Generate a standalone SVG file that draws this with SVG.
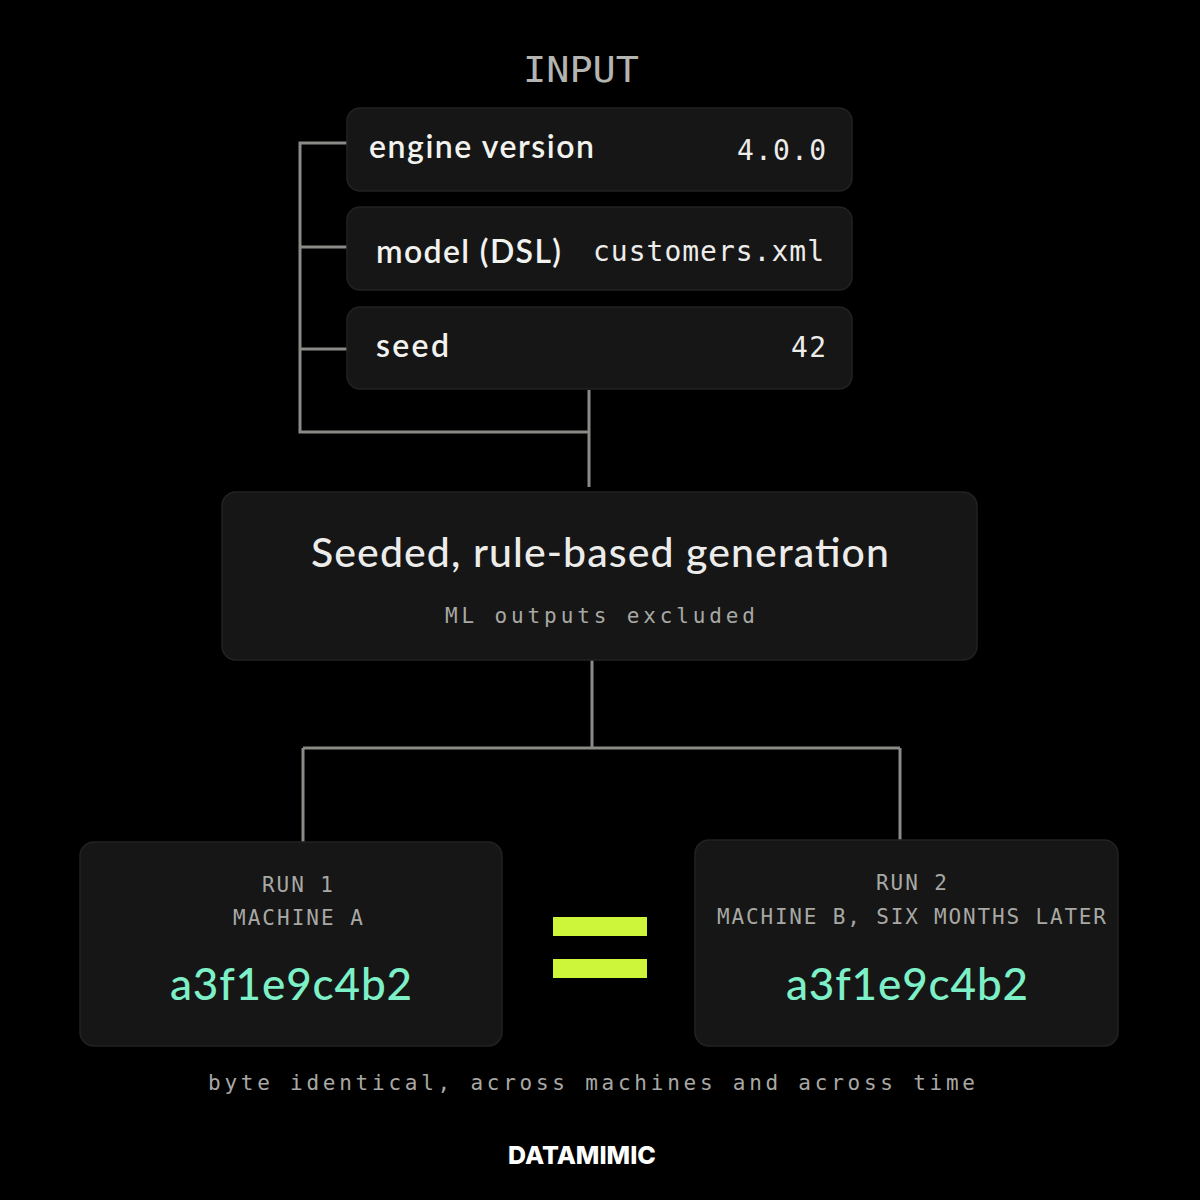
<svg xmlns="http://www.w3.org/2000/svg" width="1200" height="1200" viewBox="0 0 1200 1200">
<style>
.box{fill:#161616;stroke:#222;stroke-width:1.5}
.ln{stroke:#8a8a86;stroke-width:3;fill:none}
.lab{font-family:Lato,"Noto Sans",sans-serif;font-weight:600;fill:#f2f2ee;font-size:32px}
.mono{font-family:"DejaVu Sans Mono","Liberation Mono",monospace;fill:#ececea}
.cap{font-family:"DejaVu Sans Mono","Liberation Mono",monospace;fill:#a8a8a4;font-size:21px}
.hash{font-family:Lato,"Noto Sans",sans-serif;fill:#7ef0c8;font-size:44px;font-weight:500}
</style>
<rect width="1200" height="1200" fill="#000"/>
<text x="523" y="82" textLength="116" lengthAdjust="spacingAndGlyphs" class="mono" font-size="36" style="fill:#b4b4b0">INPUT</text>
<g id="connectors">
<path class="ln" d="M347 143H300V432H589M300 247H347M300 349H347M589 390V487"/>
<path class="ln" d="M592 657V748M303 748H900M303 748V843M900 748V841"/>
</g>
<g id="engine"><rect class="box" x="347" y="108" width="505" height="83" rx="13"/>
<text class="lab" x="369" y="158" textLength="225" lengthAdjust="spacing">engine version</text>
<text class="mono" x="737" y="160" font-size="28" textLength="89" lengthAdjust="spacing">4.0.0</text></g>
<g id="model"><rect class="box" x="347" y="207" width="505" height="83" rx="13"/>
<text class="lab" x="376" y="263" textLength="185" lengthAdjust="spacing">model (DSL)</text>
<text class="mono" x="593" y="261" font-size="28" textLength="231" lengthAdjust="spacing">customers.xml</text></g>
<g id="seed"><rect class="box" x="347" y="307" width="505" height="82" rx="13"/>
<text class="lab" x="376" y="357" textLength="73" lengthAdjust="spacing">seed</text>
<text class="mono" x="791" y="357" font-size="28" textLength="35" lengthAdjust="spacing">42</text></g>
<g id="gen"><rect class="box" x="222" y="492" width="755" height="168" rx="14"/>
<text x="311" y="567" textLength="578" lengthAdjust="spacing" font-family="Lato,'Noto Sans',sans-serif" font-size="41" font-weight="500" fill="#ececea">Seeded, rule-based generation</text>
<text x="445" y="623" textLength="310" lengthAdjust="spacing" class="cap" font-size="23">ML outputs excluded</text></g>
<g id="run1"><rect class="box" x="80" y="842" width="422" height="204" rx="14"/>
<text x="262" y="892" textLength="71" lengthAdjust="spacing" class="cap">RUN 1</text>
<text x="233" y="925" textLength="130" lengthAdjust="spacing" class="cap">MACHINE A</text>
<text x="170" y="1000" textLength="242" lengthAdjust="spacing" class="hash">a3f1e9c4b2</text></g>
<g id="eq"><rect x="553" y="917" width="94" height="19" fill="#cdf53a"/><rect x="553" y="959" width="94" height="19" fill="#cdf53a"/></g>
<g id="run2"><rect class="box" x="695" y="840" width="423" height="206" rx="14"/>
<text x="876" y="890" textLength="71" lengthAdjust="spacing" class="cap">RUN 2</text>
<text x="717" y="924" textLength="389" lengthAdjust="spacing" class="cap">MACHINE B, SIX MONTHS LATER</text>
<text x="786" y="1000" textLength="242" lengthAdjust="spacing" class="hash">a3f1e9c4b2</text></g>
<text x="208" y="1090" textLength="767" lengthAdjust="spacing" class="cap" font-size="25">byte identical, across machines and across time</text>
<text x="582" y="1164" text-anchor="middle" font-family="Inter,'Noto Sans',sans-serif" font-weight="800" font-size="25" fill="#fff">DATAMIMIC</text>
</svg>
